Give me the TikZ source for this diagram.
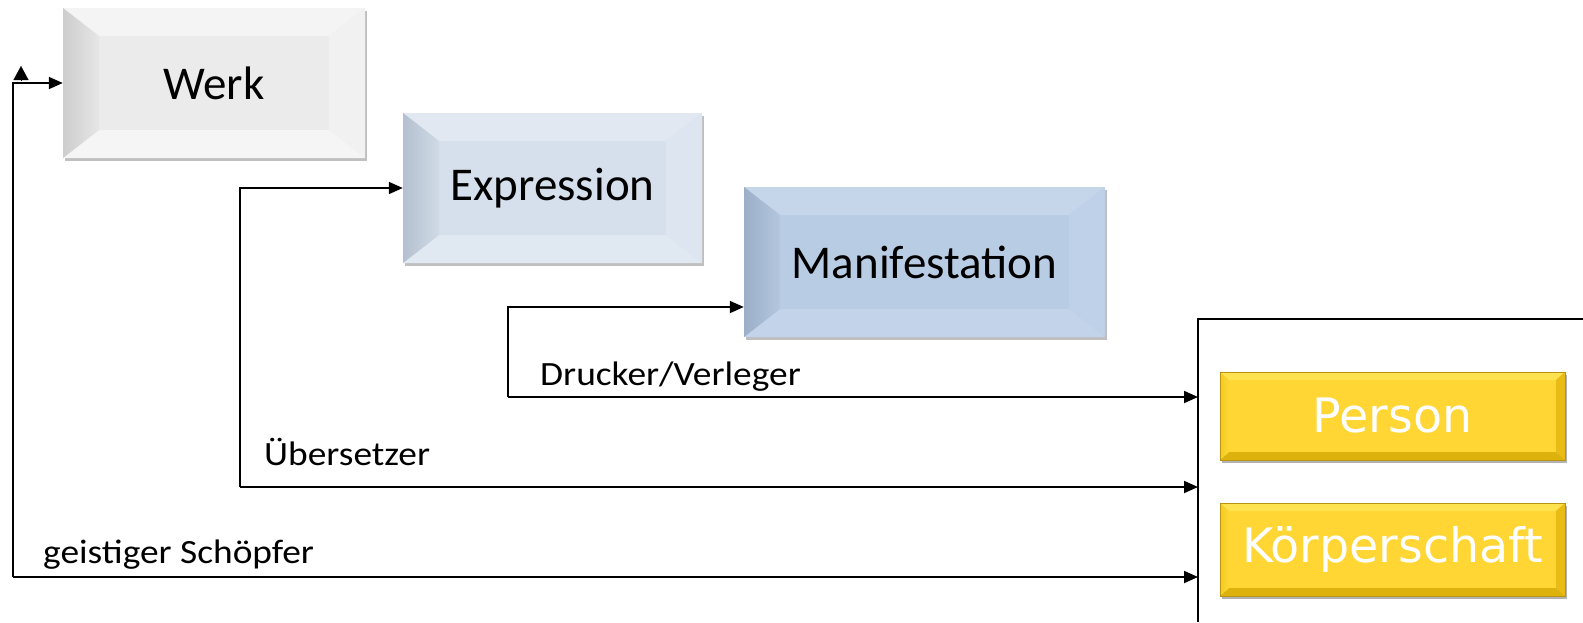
\documentclass[tikz,border=0pt]{standalone}
\usepackage{fontspec}
\setmainfont{Carlito}
\newfontfamily\verdfont{DejaVu Sans}
\newfontfamily\lblfont[FakeStretch=1.1]{Carlito}
\usetikzlibrary{arrows.meta,shadows,calc}
\definecolor{werkC}{HTML}{EBEBEB}
\definecolor{werkL}{HTML}{CDCDCD}
\definecolor{werkLi}{HTML}{E6E6E6}
\definecolor{werkT}{HTML}{F4F4F4}
\definecolor{werkR}{HTML}{F1F1F1}
\definecolor{werkB}{HTML}{F5F5F5}
\definecolor{exC}{HTML}{D6E0EC}
\definecolor{exL}{HTML}{B4C0D0}
\definecolor{exLi}{HTML}{D0DAE6}
\definecolor{exT}{HTML}{E1E8F1}
\definecolor{exR}{HTML}{DCE5F0}
\definecolor{exB}{HTML}{E0E8F1}
\definecolor{maC}{HTML}{B8CCE4}
\definecolor{maL}{HTML}{9CAFC8}
\definecolor{maLi}{HTML}{B3C6DE}
\definecolor{maT}{HTML}{C6D6EA}
\definecolor{maR}{HTML}{BED1E8}
\definecolor{maB}{HTML}{C3D4EA}
\definecolor{yeC}{HTML}{FFD633}
\definecolor{yeL}{HTML}{F5CB25}
\definecolor{yeLi}{HTML}{FFD633}
\definecolor{yeT}{HTML}{FFE250}
\definecolor{yeR}{HTML}{E8BC14}
\definecolor{yeB}{HTML}{DEB20C}
\definecolor{yeEdge}{HTML}{B89410}
\newcommand\bevelpic[7]{%
  \path (path picture bounding box.north west) coordinate (oNW)
        (path picture bounding box.north east) coordinate (oNE)
        (path picture bounding box.south west) coordinate (oSW)
        (path picture bounding box.south east) coordinate (oSE);
  \path ([xshift=#1,yshift=-#2]oNW) coordinate (iNW)
        ([xshift=-#1,yshift=-#2]oNE) coordinate (iNE)
        ([xshift=#1,yshift=#2]oSW) coordinate (iSW)
        ([xshift=-#1,yshift=#2]oSE) coordinate (iSE);
  \fill[#5] (oNW) -- (oNE) -- (iNE) -- (iNW) -- cycle;
  \fill[#6] (oNE) -- (oSE) -- (iSE) -- (iNE) -- cycle;
  \fill[#7] (oSW) -- (oSE) -- (iSE) -- (iSW) -- cycle;
  \shade[left color=#3, right color=#4] (oNW) -- (iNW) -- (iSW) -- (oSW) -- cycle;
}
\tikzset{
  conn/.style={line width=1.8pt, -{Triangle[length=14pt,width=12pt]}},
  plainline/.style={line width=1.8pt},
  frbox/.style={rectangle, inner sep=0pt, font=\fontsize{47}{56}\selectfont, text=black,
    drop shadow={shadow xshift=2pt, shadow yshift=-3pt, opacity=0.25, fill=black}},
  agentbox/.style={rectangle, inner sep=0pt, font=\verdfont\fontsize{47.5}{56}\selectfont, text=white,
    draw=yeEdge, line width=0.8pt,
    drop shadow={shadow xshift=1.5pt, shadow yshift=-3pt, opacity=0.3, fill=black}},
  lbl/.style={font=\lblfont\fontsize{34}{40}\selectfont, anchor=base west, inner sep=0pt},
}
\begin{document}
\begin{tikzpicture}[x=1pt, y=-1pt]
% boxes
\node[frbox, fill=werkC, minimum width=302pt, minimum height=150pt,
  path picture={\bevelpic{36pt}{28pt}{werkL}{werkLi}{werkT}{werkR}{werkB}}] (werk) at (214,83) {Werk};
\node[frbox, fill=exC, minimum width=299pt, minimum height=150pt,
  path picture={\bevelpic{36pt}{28pt}{exL}{exLi}{exT}{exR}{exB}}] (expr) at (552.5,188) {Expression};
\node[frbox, fill=maC, minimum width=361pt, minimum height=150pt,
  path picture={\bevelpic{36pt}{28pt}{maL}{maLi}{maT}{maR}{maB}}] (manif) at (924.5,262) {Manifestation};
\node[agentbox, fill=yeC, minimum width=345pt, minimum height=88pt,
  path picture={\bevelpic{9pt}{8pt}{yeL}{yeLi}{yeT}{yeR}{yeB}}] (person) at (1392.5,416) {Person};
\node[agentbox, fill=yeC, minimum width=345pt, minimum height=93pt,
  path picture={\bevelpic{9pt}{8pt}{yeL}{yeLi}{yeT}{yeR}{yeB}}] (koerp) at (1392.5,549.5) {Körperschaft};
% container
\coordinate (cNW) at (1198,319);
\coordinate (cNE) at (1583,319);
\coordinate (cSW) at (1198,622);
\draw[plainline] (cNE) -- (cNW) -- (cSW);
% connectors
\coordinate (gsTop) at (13,83);
\coordinate (gsBot) at (13,577);
\coordinate (ueTop) at (240,188);
\coordinate (ueBot) at (240,487);
\coordinate (drTop) at (508,307);
\coordinate (drBot) at (508,397);
\coordinate (stubA) at (21,80);
\coordinate (stubB) at (21,66);
\draw[conn] (gsBot) -- (gsTop) -- (werk.west);
\draw[conn] (gsBot) -- (gsBot -| cNW);
\draw[conn] (ueBot) -- (ueTop) -- (expr.west);
\draw[conn] (ueBot) -- (ueBot -| cNW);
\draw[conn] (drBot) -- (drTop) -- (manif.west |- drTop);
\draw[conn] (drBot) -- (drBot -| cNW);
\draw[line width=0.1pt, -{Triangle[length=14pt,width=15pt]}] (stubA) -- (stubB);
% labels
\node[lbl] (lblg) at (43,563) {geistiger Schöpfer};
\node[lbl] (lblu) at (264,465) {Übersetzer};
\node[lbl] (lbld) at (540,385) {Drucker/Verleger};
\pgfresetboundingbox
\useasboundingbox (0,0) rectangle (1583,622);
\end{tikzpicture}
\end{document}
